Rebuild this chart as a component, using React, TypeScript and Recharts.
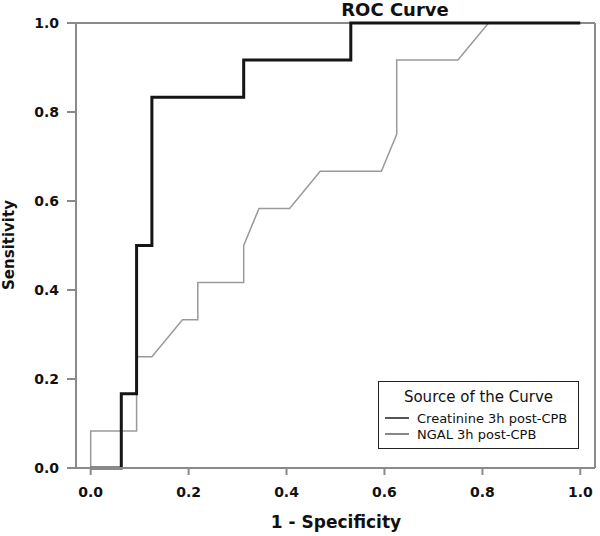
import { LineChart, Line, XAxis, YAxis, Legend, Label, ReferenceLine } from 'recharts'

// ROC points: 1 - specificity (x) and sensitivity (y)
const creatinineFpr = [0, 0.0625, 0.0625, 0.09375, 0.09375, 0.125, 0.125, 0.3125, 0.3125, 0.53125, 0.53125, 1]
const creatinineTpr = [0, 0, 0.1667, 0.1667, 0.5, 0.5, 0.8333, 0.8333, 0.9167, 0.9167, 1, 1]

const ngalFpr = [
  0, 0, 0.09375, 0.09375, 0.125, 0.1875, 0.21875, 0.21875, 0.3125, 0.3125, 0.34375, 0.40625, 0.46875,
  0.59375, 0.625, 0.625, 0.75, 0.8125, 1,
]
const ngalTpr = [
  0, 0.0833, 0.0833, 0.25, 0.25, 0.3333, 0.3333, 0.4167, 0.4167, 0.5, 0.5833, 0.5833, 0.6667, 0.6667,
  0.75, 0.9167, 0.9167, 1, 1,
]

const axisTicks = [0, 0.2, 0.4, 0.6, 0.8, 1]
const xDomain = [-0.03, 1.03]

const toPoints = (xs: number[], ys: number[]) => xs.map((x, i) => ({ x, y: ys[i] }))
const creatinineData = toPoints(creatinineFpr, creatinineTpr)
const ngalData = toPoints(ngalFpr, ngalTpr)

const FONT = '"DejaVu Sans", sans-serif'
const AXIS_GREY = '#8a8a8a'
const tickStyle = { fill: '#111', fontSize: 14, fontWeight: 'bold', fontFamily: FONT }

const CurveLegend = ({ payload }: { payload?: Array<{ value: string; color?: string }> }) => (
  <div
    style={{
      boxSizing: 'border-box',
      width: 201,
      height: 68,
      border: '1.5px solid #222',
      background: '#fff',
      fontFamily: FONT,
      color: '#111',
    }}
  >
    <div style={{ textAlign: 'center', fontSize: 15, lineHeight: '18px', marginTop: 6, marginBottom: 4 }}>
      Source of the Curve
    </div>
    {(payload || []).map((entry, i) => (
      <div key={i} style={{ display: 'flex', alignItems: 'center', height: 16, fontSize: 13 }}>
        <span style={{ display: 'inline-block', width: 24, height: 1.5, background: i === 0 ? '#555' : '#888', marginLeft: 6, marginRight: 8 }} />
        <span>{entry.value}</span>
      </div>
    ))}
  </div>
)

const App = () => (
  <div style={{ position: 'absolute', left: 0, top: 0, width: 600, height: 536, background: '#fff', fontFamily: FONT }}>
    <LineChart width={600} height={536} margin={{ top: 23, right: 5, bottom: 0, left: 0 }}>
      <XAxis
        dataKey="x"
        type="number"
        domain={xDomain}
        ticks={axisTicks}
        tickFormatter={(v: number) => v.toFixed(1)}
        height={68}
        stroke={AXIS_GREY}
        strokeWidth={2}
        tickSize={7}
        tickMargin={12}
        tick={tickStyle}
      >
        <Label
          content={() => (
            <text x={336} y={528} textAnchor="middle" fontFamily={FONT} fontSize={17} fontWeight="bold" fill="#111">
              1 - Specificity
            </text>
          )}
        />
      </XAxis>
      <YAxis
        type="number"
        domain={[0, 1]}
        ticks={axisTicks}
        tickFormatter={(v: number) => v.toFixed(1)}
        width={76}
        stroke={AXIS_GREY}
        strokeWidth={2}
        tickSize={9}
        tickMargin={8}
        tick={tickStyle}
      >
        <Label
          content={() => (
            <g>
              <text x={14} y={245} transform="rotate(-90 14 245)" textAnchor="middle" fontFamily={FONT} fontSize={15} fontWeight="bold" fill="#111">
                Sensitivity
              </text>
              <text x={395} y={15.5} textAnchor="middle" fontFamily={FONT} fontSize={18} fontWeight="bold" fill="#111">
                ROC Curve
              </text>
            </g>
          )}
        />
      </YAxis>
      {/* plot frame: top and right borders */}
      <ReferenceLine y={1} stroke={AXIS_GREY} strokeWidth={2} />
      <ReferenceLine x={xDomain[1]} stroke={AXIS_GREY} strokeWidth={2} />
      <Legend
        layout="horizontal"
        verticalAlign="middle"
        align="center"
        wrapperStyle={{ left: 378, top: 381, width: 201, height: 68 }}
        content={<CurveLegend />}
      />
      <Line
        data={ngalData}
        dataKey="y"
        name="NGAL 3h post-CPB"
        type="linear"
        stroke="#9a9a9a"
        strokeWidth={1.5}
        dot={false}
        activeDot={false}
        isAnimationActive={false}
        legendType="line"
      />
      <Line
        data={creatinineData}
        dataKey="y"
        name="Creatinine 3h post-CPB"
        type="linear"
        stroke="#151515"
        strokeWidth={3}
        dot={false}
        activeDot={false}
        isAnimationActive={false}
        legendType="line"
      />
    </LineChart>
  </div>
)

export default App
